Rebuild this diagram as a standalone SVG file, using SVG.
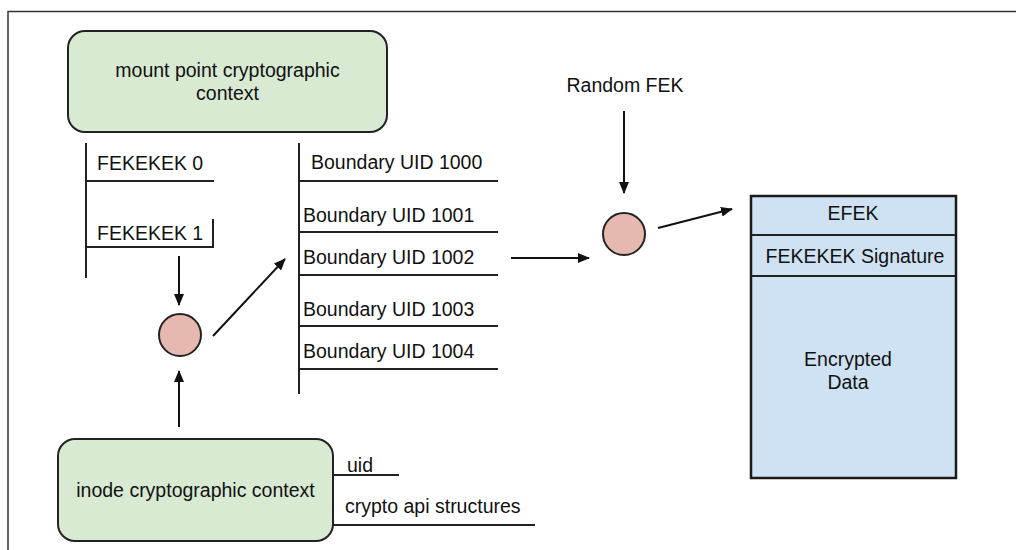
<svg xmlns="http://www.w3.org/2000/svg" width="1016" height="550" viewBox="0 0 1016 550">
  <style>
    text { font-family: "Liberation Sans", Arial, sans-serif; font-size: 19.5px; fill: #111; }
    .mid { text-anchor: middle; }
    .ln { stroke: #222; stroke-width: 2; fill: none; }
    .arr { stroke: #111; stroke-width: 2; fill: none; marker-end: url(#head); }
    .ctx { fill: #d9ead3; stroke: #222; stroke-width: 2; }
    .op { fill: #e6b8af; stroke: #222; stroke-width: 2; }
    .blk { fill: #cfe2f3; stroke: #1a1a1a; stroke-width: 2.5; }
  </style>
  <defs>
    <marker id="head" viewBox="0 0 12 10" refX="11" refY="5" markerWidth="12" markerHeight="10" markerUnits="userSpaceOnUse" orient="auto">
      <path d="M0,0 L12,5 L0,10 Z" fill="#111"/>
    </marker>
  </defs>

  <rect width="1016" height="550" fill="#fff"/>
  <!-- frame -->
  <path d="M8,550 V11.5 H1016" stroke="#333" stroke-width="1.5" fill="none"/>

  <g id="mount-context">
    <rect class="ctx" x="68" y="31" width="319" height="101" rx="17"/>
    <text class="mid" x="227.5" y="77">mount point cryptographic</text>
    <text class="mid" x="227.5" y="100">context</text>
  </g>

  <g id="fekekek-list">
    <path class="ln" d="M86,143 V278 M86,181 H214 M86,247 H213 V219"/>
    <text x="97" y="170">FEKEKEK 0</text>
    <text x="97" y="240">FEKEKEK 1</text>
  </g>

  <g id="boundary-list">
    <path class="ln" d="M299,143 V394 M299,181 H498 M299,232 H498 M299,275 H498 M299,326 H498 M299,369 H498"/>
    <text x="311" y="169">Boundary UID 1000</text>
    <text x="303" y="222">Boundary UID 1001</text>
    <text x="303" y="264">Boundary UID 1002</text>
    <text x="303" y="316">Boundary UID 1003</text>
    <text x="303" y="358">Boundary UID 1004</text>
  </g>

  <g id="op-wrap">
    <circle class="op" cx="180" cy="335" r="21"/>
  </g>

  <g id="op-encrypt">
    <circle class="op" cx="624" cy="234" r="21"/>
  </g>

  <g id="random-fek">
    <text class="mid" x="625" y="92">Random FEK</text>
  </g>

  <g id="inode-context">
    <rect class="ctx" x="58" y="439" width="275" height="102" rx="17"/>
    <text class="mid" x="195.5" y="497">inode cryptographic context</text>
    <path class="ln" d="M333,475 H399 M333,525 H535"/>
    <text x="347" y="472">uid</text>
    <text x="345" y="513">crypto api structures</text>
  </g>

  <g id="file-header">
    <rect class="blk" x="751" y="196" width="205" height="282"/>
    <path class="ln" d="M751,235 H956 M751,276 H956" stroke-width="2.5"/>
    <text class="mid" x="853" y="220">EFEK</text>
    <text class="mid" x="855" y="263">FEKEKEK Signature</text>
    <text class="mid" x="848" y="366">Encrypted</text>
    <text class="mid" x="848" y="389">Data</text>
  </g>

  <g id="connectors">
    <line class="arr" x1="179" y1="256" x2="179" y2="305"/>
    <line class="arr" x1="179" y1="427" x2="179" y2="371"/>
    <line class="arr" x1="213" y1="336" x2="285" y2="259"/>
    <line class="arr" x1="511" y1="258" x2="589" y2="258"/>
    <line class="arr" x1="624" y1="111" x2="624" y2="193"/>
    <line class="arr" x1="658" y1="228" x2="732" y2="209"/>
  </g>
</svg>
